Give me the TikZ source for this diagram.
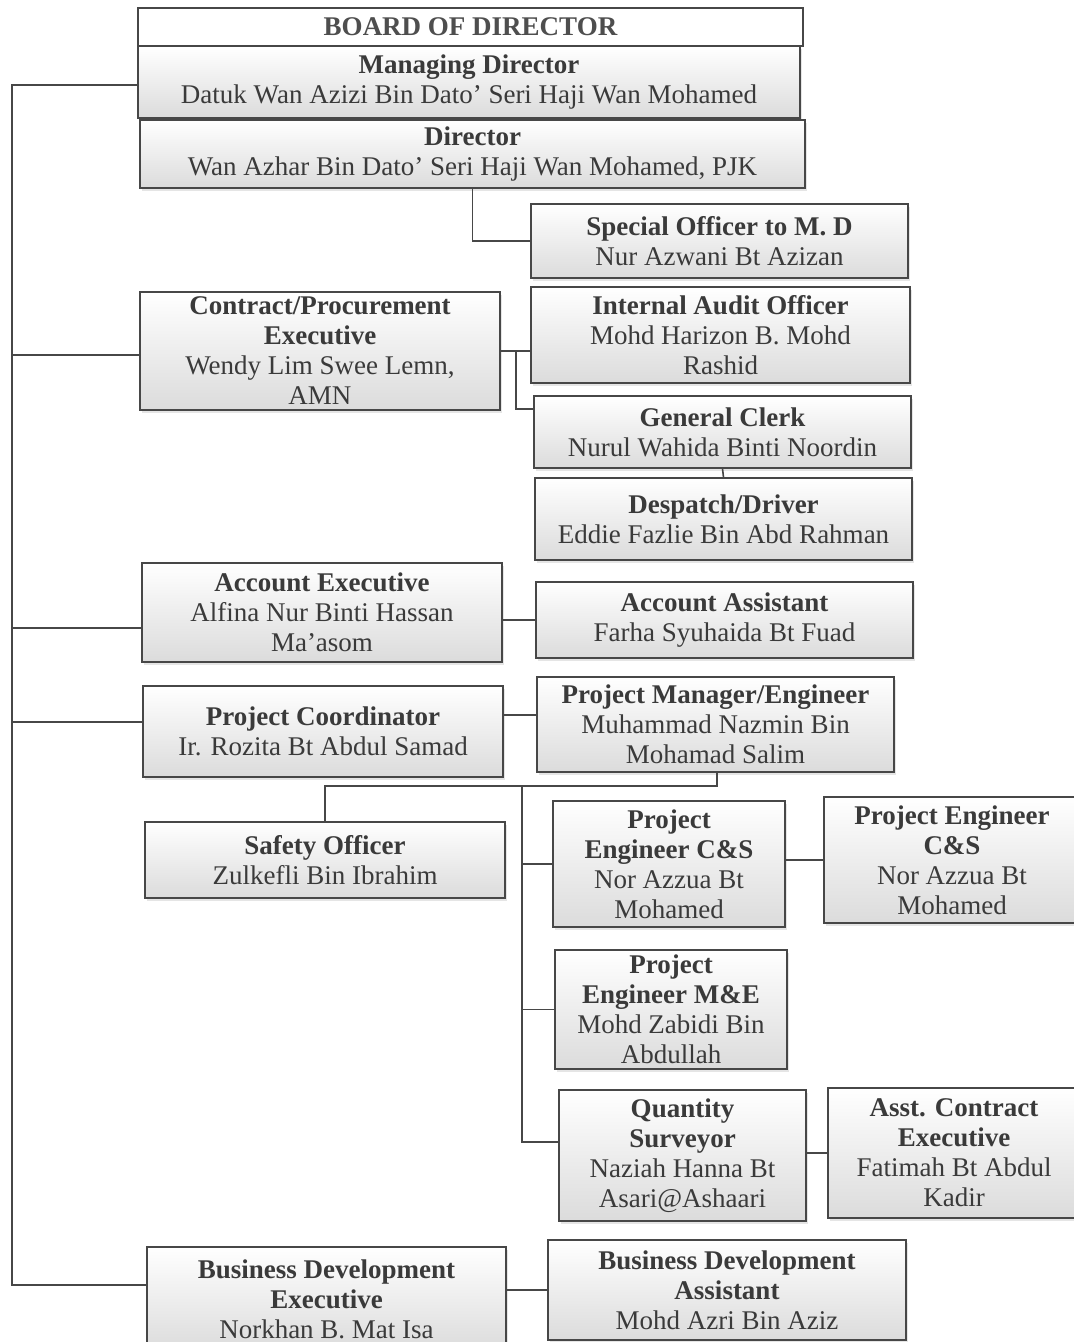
\documentclass[tikz,border=0pt]{standalone}
\usepackage{fontspec}
\setmainfont{Liberation Serif}
\usetikzlibrary{shadows}
\definecolor{ink}{HTML}{3A3A3A}
\definecolor{edge}{HTML}{474747}
\begin{document}
\begin{tikzpicture}[x=1pt,y=-1pt,
  box/.style={draw=edge, line width=1.6pt, top color=white, bottom color=gray!28,
    text=ink, font=\fontsize{27}{30}\selectfont, align=center, inner sep=0pt,
    anchor=center, drop shadow={shadow xshift=1.5pt,shadow yshift=-2.5pt,opacity=0.2}},
  topbox/.style={draw=edge, line width=2.4pt, fill=white, text=ink!90,
    font=\fontsize{27}{30}\selectfont\bfseries, inner sep=0pt, anchor=center},
  link/.style={draw=edge, line width=1.6pt}]
\clip (0,0) rectangle (1074,1342);
\fill[white] (0,0) rectangle (1074,1342);

% top block
\node[topbox, minimum width=665pt, minimum height=38pt] (bod) at (470.5,27) {BOARD OF DIRECTOR};
\node[box, minimum width=662pt, minimum height=72pt] (md) at (469,82)
  {\textbf{Managing Director}\\Datuk Wan Azizi Bin Dato’ Seri Haji Wan Mohamed};
\node[box, minimum width=665pt, minimum height=68pt] (dir) at (472.5,154)
  {\textbf{Director}\\Wan Azhar Bin Dato’ Seri Haji Wan Mohamed, PJK};

% right column, top
\node[box, minimum width=377pt, minimum height=74pt] (so) at (719.5,241)
  {\textbf{Special Officer to M. D}\\Nur Azwani Bt Azizan};
\node[box, minimum width=379pt, minimum height=96pt] (ia) at (720.5,335)
  {\textbf{Internal Audit Officer}\\Mohd Harizon B. Mohd\\Rashid};
\node[box, minimum width=377pt, minimum height=72pt] (gc) at (722.5,432)
  {\textbf{General Clerk}\\Nurul Wahida Binti Noordin};
\node[box, minimum width=377pt, minimum height=82pt] (dd) at (723.5,519)
  {\textbf{Despatch/Driver}\\Eddie Fazlie Bin Abd Rahman};
\node[box, minimum width=377pt, minimum height=76pt] (aa) at (724.5,620)
  {\textbf{Account Assistant}\\Farha Syuhaida Bt Fuad};
\node[box, minimum width=357pt, minimum height=95pt] (pm) at (715.5,724.5)
  {\textbf{Project Manager/Engineer}\\Muhammad Nazmin Bin\\Mohamad Salim};

% left column
\node[box, minimum width=360pt, minimum height=118pt] (cp) at (320,351)
  {\textbf{Contract/Procurement}\\\textbf{Executive}\\Wendy Lim Swee Lemn,\\AMN};
\node[box, minimum width=360pt, minimum height=99pt] (ae) at (322,612.5)
  {\textbf{Account Executive}\\Alfina Nur Binti Hassan\\Ma’asom};
\node[box, minimum width=360pt, minimum height=91pt] (pc) at (323,731.5)
  {\textbf{Project Coordinator}\\Ir. Rozita Bt Abdul Samad};
\node[box, minimum width=360pt, minimum height=76pt] (sf) at (325,860)
  {\textbf{Safety Officer}\\Zulkefli Bin Ibrahim};
\node[box, minimum width=359pt, minimum height=105pt] (bde) at (326.5,1299.5)
  {\textbf{Business Development}\\\textbf{Executive}\\Norkhan B. Mat Isa};
\node[box, minimum width=358pt, minimum height=100pt] (bda) at (727,1290)
  {\textbf{Business Development}\\\textbf{Assistant}\\Mohd Azri Bin Aziz};

% project engineers
\node[box, minimum width=232pt, minimum height=126pt] (pecs) at (669,864)
  {\textbf{Project}\\\textbf{Engineer C\&S}\\Nor Azzua Bt\\Mohamed};
\node[box, minimum width=256pt, minimum height=126pt] (pecsb) at (952,860)
  {\textbf{Project Engineer}\\\textbf{C\&S}\\Nor Azzua Bt\\Mohamed};
\node[box, minimum width=232pt, minimum height=119pt] (peme) at (671,1009.5)
  {\textbf{Project}\\\textbf{Engineer M\&E}\\Mohd Zabidi Bin\\Abdullah};
\node[box, minimum width=247pt, minimum height=131pt] (qs) at (682.5,1155.5)
  {\textbf{Quantity}\\\textbf{Surveyor}\\Naziah Hanna Bt\\Asari@Ashaari};
\node[box, minimum width=252pt, minimum height=130pt] (ace) at (954,1153)
  {\textbf{Asst. Contract}\\\textbf{Executive}\\Fatimah Bt Abdul\\Kadir};

% trunk on the left
\coordinate (tt) at (12,85);
\coordinate (tb) at (12,1285);
\coordinate (bcp) at (12,355);
\coordinate (bae) at (12,628);
\coordinate (bpc) at (12,722);
\draw[link] (md.west |- tt) -- (tt) -- (tb) -- (tb -| bde.west);
\draw[link] (bcp) -- (bcp -| cp.west);
\draw[link] (bae) -- (bae -| ae.west);
\draw[link] (bpc) -- (bpc -| pc.west);

% director to special officer
\draw[link] (dir.south) |- (so.west);

% contract to audit / clerk
\coordinate (cj) at (516,351);
\coordinate (cg) at (516,409);
\draw[link] (cp.east) -- (cp.east -| ia.west);
\draw[link] (cj) -- (cg) -- (cg -| gc.west);
\draw[link] (gc.south) -- (dd.north);

% account
\draw[link] (ae.east |- aa.west) -- (aa.west);

% project coordinator to manager
\coordinate (pp) at (520,715);
\draw[link] (pp -| pc.east) -- (pp -| pm.west);

% manager downwards
\coordinate (mh) at (717,786);
\coordinate (mv) at (522,786);
\coordinate (mb) at (522,1142);
\draw[link] (pm.south -| mh) -- (mh) -- (mh -| sf.north) -- (sf.north);
\draw[link] (mv) -- (mb) -- (mb -| qs.west);
\draw[link] (mv |- pecs.west) -- (pecs.west);
\draw[link] (mv |- peme.west) -- (peme.west);
\draw[link] (pecs.east |- pecsb.west) -- (pecsb.west);
\draw[link] (qs.east |- ace.west) -- (ace.west);
\draw[link] (bde.east |- bda.west) -- (bda.west);
\end{tikzpicture}
\end{document}
